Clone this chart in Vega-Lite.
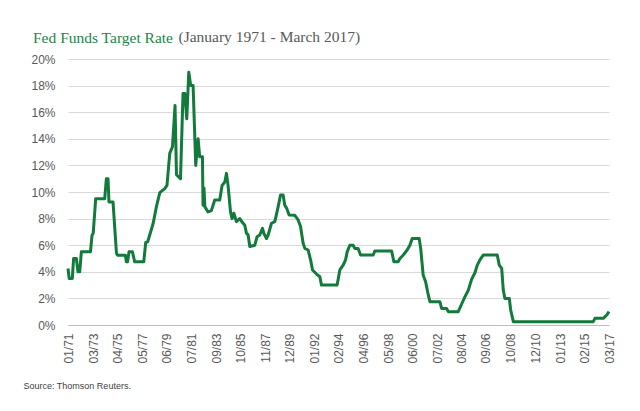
{
  "$schema": "https://vega.github.io/schema/vega-lite/v6.json",
  "autosize": {"type": "none"},
  "width": 541,
  "height": 266,
  "padding": {"left": 68, "top": 59, "right": 31, "bottom": 86},
  "background": "white",
  "title": {
    "text": "Fed Funds Target Rate",
    "anchor": "start",
    "frame": "group",
    "dx": -35,
    "offset": 0,
    "dy": 29,
    "baseline": "alphabetic",
    "font": "Liberation Serif",
    "fontSize": 15.5,
    "fontWeight": "normal",
    "color": "#1e8449"
  },
  "data": {
    "values": [
      {"date": "1971-01-01", "rate": 4.25},
      {"date": "1971-02-07", "rate": 3.5},
      {"date": "1971-05-16", "rate": 3.5},
      {"date": "1971-06-25", "rate": 5.0},
      {"date": "1971-09-19", "rate": 5.0},
      {"date": "1971-11-07", "rate": 4.0},
      {"date": "1972-01-01", "rate": 4.0},
      {"date": "1972-02-21", "rate": 5.5},
      {"date": "1972-12-01", "rate": 5.5},
      {"date": "1973-01-19", "rate": 6.75},
      {"date": "1973-02-25", "rate": 6.9},
      {"date": "1973-05-13", "rate": 9.5},
      {"date": "1974-02-19", "rate": 9.5},
      {"date": "1974-04-10", "rate": 11.0},
      {"date": "1974-06-01", "rate": 11.0},
      {"date": "1974-07-01", "rate": 9.25},
      {"date": "1974-11-04", "rate": 9.25},
      {"date": "1975-02-19", "rate": 5.4},
      {"date": "1975-03-28", "rate": 5.25},
      {"date": "1975-11-25", "rate": 5.25},
      {"date": "1975-12-25", "rate": 4.75},
      {"date": "1976-02-01", "rate": 4.75},
      {"date": "1976-03-16", "rate": 5.5},
      {"date": "1976-07-01", "rate": 5.5},
      {"date": "1976-09-10", "rate": 4.75},
      {"date": "1977-06-19", "rate": 4.75},
      {"date": "1977-08-19", "rate": 6.2},
      {"date": "1977-10-19", "rate": 6.25},
      {"date": "1977-12-22", "rate": 6.77},
      {"date": "1978-04-04", "rate": 7.6},
      {"date": "1978-07-19", "rate": 8.9},
      {"date": "1978-11-01", "rate": 9.95},
      {"date": "1979-04-04", "rate": 10.25},
      {"date": "1979-06-13", "rate": 10.5},
      {"date": "1979-09-07", "rate": 12.9},
      {"date": "1979-12-01", "rate": 13.4},
      {"date": "1980-02-19", "rate": 16.5},
      {"date": "1980-04-04", "rate": 11.3},
      {"date": "1980-08-07", "rate": 11.0},
      {"date": "1980-10-25", "rate": 17.4},
      {"date": "1980-12-19", "rate": 17.4},
      {"date": "1981-02-19", "rate": 15.5},
      {"date": "1981-04-22", "rate": 19.0},
      {"date": "1981-06-22", "rate": 18.0},
      {"date": "1981-09-04", "rate": 18.0},
      {"date": "1981-11-25", "rate": 12.0},
      {"date": "1982-02-07", "rate": 14.0},
      {"date": "1982-03-28", "rate": 12.65},
      {"date": "1982-06-22", "rate": 12.65},
      {"date": "1982-07-10", "rate": 9.0},
      {"date": "1982-08-10", "rate": 10.3},
      {"date": "1982-09-04", "rate": 8.9},
      {"date": "1982-12-13", "rate": 8.5},
      {"date": "1983-03-28", "rate": 8.6},
      {"date": "1983-07-10", "rate": 9.4},
      {"date": "1983-12-13", "rate": 9.4},
      {"date": "1984-02-25", "rate": 10.5},
      {"date": "1984-05-19", "rate": 10.75},
      {"date": "1984-07-10", "rate": 11.4},
      {"date": "1984-08-28", "rate": 10.5},
      {"date": "1984-11-13", "rate": 8.5},
      {"date": "1985-01-01", "rate": 8.0},
      {"date": "1985-02-25", "rate": 8.4},
      {"date": "1985-05-16", "rate": 7.77},
      {"date": "1985-08-28", "rate": 8.0},
      {"date": "1985-11-22", "rate": 7.7},
      {"date": "1986-02-01", "rate": 7.5},
      {"date": "1986-03-25", "rate": 6.9},
      {"date": "1986-05-13", "rate": 6.8},
      {"date": "1986-07-07", "rate": 5.9},
      {"date": "1986-12-10", "rate": 6.0},
      {"date": "1987-02-19", "rate": 6.64},
      {"date": "1987-05-13", "rate": 6.77},
      {"date": "1987-08-07", "rate": 7.27},
      {"date": "1987-09-16", "rate": 6.9},
      {"date": "1987-12-10", "rate": 6.5},
      {"date": "1988-01-28", "rate": 6.75},
      {"date": "1988-05-13", "rate": 7.65},
      {"date": "1988-08-25", "rate": 7.77},
      {"date": "1988-12-07", "rate": 8.9},
      {"date": "1989-02-19", "rate": 9.77},
      {"date": "1989-05-10", "rate": 9.77},
      {"date": "1989-07-01", "rate": 9.0},
      {"date": "1989-09-04", "rate": 8.75},
      {"date": "1989-11-13", "rate": 8.27},
      {"date": "1990-05-10", "rate": 8.25},
      {"date": "1990-08-22", "rate": 7.9},
      {"date": "1990-11-04", "rate": 7.4},
      {"date": "1991-01-25", "rate": 6.14},
      {"date": "1991-03-19", "rate": 5.76},
      {"date": "1991-06-28", "rate": 5.64},
      {"date": "1991-09-13", "rate": 4.9},
      {"date": "1991-11-13", "rate": 4.14},
      {"date": "1992-03-16", "rate": 3.83},
      {"date": "1992-06-28", "rate": 3.63},
      {"date": "1992-08-19", "rate": 3.0},
      {"date": "1993-12-19", "rate": 3.0},
      {"date": "1994-03-13", "rate": 4.14},
      {"date": "1994-06-25", "rate": 4.5},
      {"date": "1994-09-07", "rate": 4.9},
      {"date": "1994-10-28", "rate": 5.5},
      {"date": "1995-01-19", "rate": 6.0},
      {"date": "1995-05-01", "rate": 6.0},
      {"date": "1995-06-22", "rate": 5.76},
      {"date": "1995-10-04", "rate": 5.75},
      {"date": "1995-12-19", "rate": 5.26},
      {"date": "1997-01-16", "rate": 5.26},
      {"date": "1997-03-07", "rate": 5.56},
      {"date": "1998-08-13", "rate": 5.56},
      {"date": "1998-10-22", "rate": 4.76},
      {"date": "1999-03-04", "rate": 4.76},
      {"date": "1999-04-28", "rate": 5.0},
      {"date": "1999-08-07", "rate": 5.25},
      {"date": "1999-12-10", "rate": 5.64},
      {"date": "2000-03-04", "rate": 6.0},
      {"date": "2000-05-16", "rate": 6.5},
      {"date": "2000-12-19", "rate": 6.5},
      {"date": "2001-02-04", "rate": 5.76},
      {"date": "2001-04-22", "rate": 3.76},
      {"date": "2001-07-07", "rate": 3.26},
      {"date": "2001-09-28", "rate": 2.26},
      {"date": "2001-11-19", "rate": 1.75},
      {"date": "2002-09-25", "rate": 1.75},
      {"date": "2002-11-19", "rate": 1.25},
      {"date": "2003-04-22", "rate": 1.25},
      {"date": "2003-06-13", "rate": 1.0},
      {"date": "2004-04-19", "rate": 1.0},
      {"date": "2004-08-04", "rate": 1.58},
      {"date": "2004-11-16", "rate": 2.13},
      {"date": "2005-02-25", "rate": 2.6},
      {"date": "2005-06-10", "rate": 3.43},
      {"date": "2005-09-22", "rate": 3.93},
      {"date": "2005-12-04", "rate": 4.5},
      {"date": "2006-02-25", "rate": 4.9},
      {"date": "2006-06-07", "rate": 5.26},
      {"date": "2007-08-19", "rate": 5.26},
      {"date": "2007-10-19", "rate": 4.5},
      {"date": "2008-01-04", "rate": 4.26},
      {"date": "2008-02-22", "rate": 2.63},
      {"date": "2008-04-13", "rate": 2.0},
      {"date": "2008-08-28", "rate": 2.0},
      {"date": "2008-10-10", "rate": 1.13},
      {"date": "2009-01-01", "rate": 0.25},
      {"date": "2015-10-28", "rate": 0.25},
      {"date": "2015-12-19", "rate": 0.5},
      {"date": "2016-09-04", "rate": 0.5},
      {"date": "2016-12-19", "rate": 0.75},
      {"date": "2017-03-01", "rate": 1.0}
    ]
  },
  "mark": {"type": "line", "color": "#127a3a", "strokeWidth": 3, "strokeJoin": "round", "clip": false},
  "encoding": {
    "x": {
      "field": "date",
      "type": "temporal",
      "scale": {"type": "utc", "domain": [{"year": 1971, "month": 1, "date": 1, "utc": true}, {"year": 2017, "month": 3, "date": 1, "utc": true}], "nice": false},
      "axis": {
        "values": [
          {"year": 1971, "month": 1, "date": 1, "utc": true},
          {"year": 1973, "month": 3, "date": 1, "utc": true},
          {"year": 1975, "month": 4, "date": 1, "utc": true},
          {"year": 1977, "month": 5, "date": 1, "utc": true},
          {"year": 1979, "month": 6, "date": 1, "utc": true},
          {"year": 1981, "month": 7, "date": 1, "utc": true},
          {"year": 1983, "month": 9, "date": 1, "utc": true},
          {"year": 1985, "month": 10, "date": 1, "utc": true},
          {"year": 1987, "month": 11, "date": 1, "utc": true},
          {"year": 1989, "month": 12, "date": 1, "utc": true},
          {"year": 1992, "month": 1, "date": 1, "utc": true},
          {"year": 1994, "month": 2, "date": 1, "utc": true},
          {"year": 1996, "month": 4, "date": 1, "utc": true},
          {"year": 1998, "month": 5, "date": 1, "utc": true},
          {"year": 2000, "month": 6, "date": 1, "utc": true},
          {"year": 2002, "month": 7, "date": 1, "utc": true},
          {"year": 2004, "month": 8, "date": 1, "utc": true},
          {"year": 2006, "month": 9, "date": 1, "utc": true},
          {"year": 2008, "month": 10, "date": 1, "utc": true},
          {"year": 2010, "month": 12, "date": 1, "utc": true},
          {"year": 2013, "month": 1, "date": 1, "utc": true},
          {"year": 2015, "month": 2, "date": 1, "utc": true},
          {"year": 2017, "month": 3, "date": 1, "utc": true}
        ],
        "labelExpr": "utcFormat(datum.value, '%m/%y')",
        "labelAngle": 270,
        "labelAlign": "right",
        "labelBaseline": "middle",
        "labelPadding": 8,
        "labelFont": "Liberation Sans",
        "labelFontSize": 12,
        "labelColor": "#595959",
        "labelOverlap": false,
        "labelFlush": false,
        "ticks": false,
        "grid": false,
        "domainColor": "#bfbfbf",
        "domainWidth": 1,
        "title": "Source: Thomson Reuters.",
        "titleX": -45,
        "titleY": 60,
        "titleAlign": "left",
        "titleBaseline": "middle",
        "titleFont": "Liberation Sans",
        "titleFontSize": 9,
        "titleFontWeight": "normal",
        "titleColor": "#404040"
      }
    },
    "y": {
      "field": "rate",
      "type": "quantitative",
      "scale": {"domain": [0, 20], "nice": false, "zero": true},
      "axis": {
        "values": [0, 2, 4, 6, 8, 10, 12, 14, 16, 18, 20],
        "labelExpr": "datum.value + '%'",
        "labelPadding": 13,
        "labelFont": "Liberation Sans",
        "labelFontSize": 12,
        "labelColor": "#595959",
        "ticks": false,
        "domain": false,
        "grid": true,
        "gridColor": "#d9d9d9",
        "gridWidth": 1,
        "title": "(January 1971 - March 2017)",
        "titleAngle": 0,
        "titleX": 110,
        "titleY": -18,
        "titleAlign": "left",
        "titleBaseline": "alphabetic",
        "titleFont": "Liberation Serif",
        "titleFontSize": 15.5,
        "titleFontWeight": "normal",
        "titleColor": "#595959"
      }
    }
  },
  "config": {"view": {"stroke": null}}
}
